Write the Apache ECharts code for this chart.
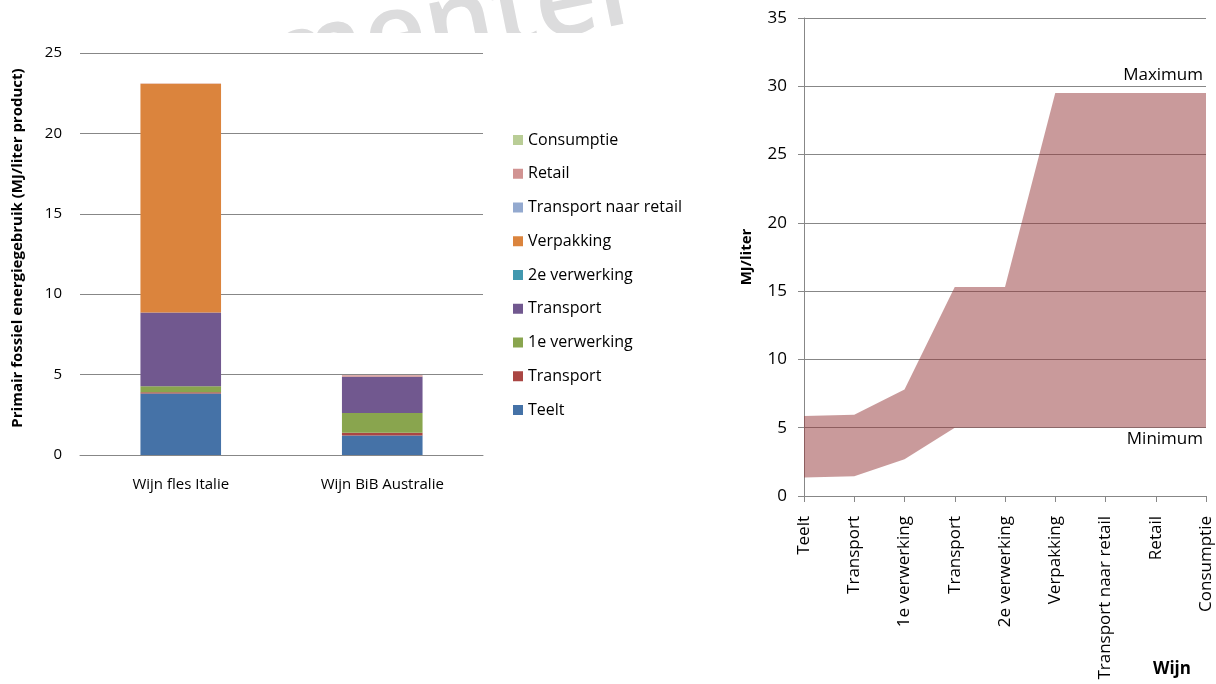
<!DOCTYPE html>
<html>
<head>
<meta charset="utf-8">
<script src="https://cdn.jsdelivr.net/npm/echarts@6/dist/echarts.min.js"></script>
<style>
    html, body { margin: 0; padding: 0; background: #fff; }
    #chart { width: 1216px; height: 684px; }
</style>
</head>
<body>
<div id="chart"></div>
<script>
// Left chart: energy use per product, stacked by stage (MJ/liter product)
const products = ['Wijn fles Italie', 'Wijn BiB Australie'];
const teelt = [3.83, 1.22];
const transport1 = [0.08, 0.16];
const verwerking1 = [0.37, 1.23];
const transport2 = [4.58, 2.25];
const verwerking2 = [0, 0];
const verpakking = [14.22, 0];
const transportRetail = [0, 0];
const retail = [0.03, 0.1];
const consumptie = [0, 0];

// Right chart: cumulative range over the chain (MJ/liter)
const stages = ['Teelt', 'Transport', '1e verwerking', 'Transport', '2e verwerking', 'Verpakking', 'Transport naar retail', 'Retail', 'Consumptie'];
const minimum = [1.35, 1.45, 2.7, 5, 5, 5, 5, 5, 5];
const maximum = [5.85, 5.95, 7.8, 15.3, 15.3, 29.5, 29.5, 29.5, 29.5];

const FONT = "'Open Sans', sans-serif";
const GRID_COLOR = '#878787';

const VC = function () {

    const stackSeries = function () {
        // bottom to top, names must be unique for the legend
        const parts = [
            ['Teelt', teelt, '#4572A7'],
            ['Transport', transport1, '#AA4643'],
            ['1e verwerking', verwerking1, '#89A54E'],
            ['Transport ', transport2, '#71588F'],
            ['2e verwerking', verwerking2, '#4198AF'],
            ['Verpakking', verpakking, '#DB843D'],
            ['Transport naar retail', transportRetail, '#93A9CF'],
            ['Retail', retail, '#D19392'],
            ['Consumptie', consumptie, '#B9CD96']
        ];
        return parts.map(p => ({
            name: p[0],
            type: 'bar',
            stack: 'total',
            xAxisIndex: 0,
            yAxisIndex: 0,
            barWidth: '40%',
            itemStyle: { color: p[2] },
            data: p[1]
        }));
    }

    const bandSeries = function () {
        let diff = maximum.map((v, i) => v - minimum[i]);
        return [{
            name: 'min',
            type: 'line',
            stack: 'band',
            xAxisIndex: 1,
            yAxisIndex: 1,
            symbol: 'none',
            lineStyle: { opacity: 0 },
            data: minimum
        }, {
            name: 'band',
            type: 'line',
            stack: 'band',
            xAxisIndex: 1,
            yAxisIndex: 1,
            symbol: 'none',
            lineStyle: { opacity: 0 },
            areaStyle: { color: 'rgba(148,54,56,0.5)', opacity: 1 },
            data: diff,
            markLine: {
                silent: true,
                symbol: 'none',
                lineStyle: { color: 'transparent', width: 0, type: 'solid' },
                label: {
                    show: true,
                    color: '#000',
                    fontSize: 17,
                    fontFamily: FONT,
                    distance: 3
                },
                data: [
                    { yAxis: 30, label: { position: 'insideEndTop', formatter: 'Maximum' } },
                    { yAxis: 5, label: { position: 'insideEndBottom', formatter: 'Minimum' } }
                ]
            }
        }];
    }

    const initGraph = function () {
        const chart = echarts.init(document.getElementById('chart'));
        const legendNames = stackSeries().map(s => s.name).reverse();

        chart.setOption({
            backgroundColor: '#fff',
            animation: false,
            textStyle: { fontFamily: FONT },

            // Watermark, cut off at the bottom
            graphic: [{
                type: 'text',
                z: -10,
                x: 275,
                y: 118,
                rotation: 0.2,
                style: {
                    text: 'menter',
                    font: "600 108px 'Open Sans', sans-serif",
                    fill: '#dcdcdd',
                    textVerticalAlign: 'bottom'
                }
            }, {
                type: 'rect',
                z: -9,
                shape: { x: 200, y: 33, width: 580, height: 140 },
                style: { fill: '#fff' }
            }],

            title: {
                text: 'Wijn',
                left: 1153,
                top: 661,
                padding: 0,
                textStyle: { fontSize: 17, fontWeight: 'bold', color: '#000', fontFamily: FONT }
            },

            // Add legend
            legend: {
                orient: 'vertical',
                left: 513,
                top: 132,
                padding: 0,
                icon: 'rect',
                itemWidth: 10,
                itemHeight: 10,
                itemGap: 17.75,
                selectedMode: false,
                textStyle: { fontSize: 16, lineHeight: 16, color: '#000', fontFamily: FONT },
                data: legendNames
            },

            // Setup grids
            grid: [
                { left: 80, top: 53, width: 403, height: 402 },
                { left: 804, top: 18, width: 402, height: 478 }
            ],

            // Horizontal axes
            xAxis: [{
                type: 'category',
                gridIndex: 0,
                data: products,
                axisLine: { lineStyle: { color: GRID_COLOR } },
                axisTick: { length: 5, lineStyle: { color: GRID_COLOR } },
                axisLabel: { color: '#000', fontSize: 15, margin: 22, fontFamily: FONT }
            }, {
                type: 'category',
                gridIndex: 1,
                data: stages,
                boundaryGap: false,
                axisLine: { lineStyle: { color: GRID_COLOR } },
                axisTick: { length: 6, lineStyle: { color: GRID_COLOR } },
                axisLabel: { color: '#000', fontSize: 17, rotate: 90, margin: 20, interval: 0, fontFamily: FONT }
            }],

            // Vertical axes
            yAxis: [{
                type: 'value',
                gridIndex: 0,
                min: 0,
                max: 25,
                interval: 5,
                name: 'Primair fossiel energiegebruik (MJ/liter product)',
                nameLocation: 'middle',
                nameGap: 55,
                nameTextStyle: { fontSize: 15, fontWeight: 'bold', color: '#000', padding: [0, 0, 0, 12], fontFamily: FONT },
                axisLine: { show: false },
                axisTick: { show: false },
                axisLabel: { color: '#000', fontSize: 15, margin: 18, fontFamily: FONT },
                splitLine: { lineStyle: { color: GRID_COLOR } }
            }, {
                type: 'value',
                gridIndex: 1,
                min: 0,
                max: 35,
                interval: 5,
                name: 'MJ/liter',
                nameLocation: 'middle',
                nameGap: 50,
                nameTextStyle: { fontSize: 15, fontWeight: 'bold', color: '#000', fontFamily: FONT },
                axisLine: { show: true, lineStyle: { color: GRID_COLOR } },
                axisTick: { show: true, length: 6, lineStyle: { color: GRID_COLOR } },
                axisLabel: { color: '#000', fontSize: 17, margin: 17, fontFamily: FONT },
                splitLine: { lineStyle: { color: GRID_COLOR } }
            }],

            // Add series
            series: stackSeries().concat(bandSeries())
        });
    }

    return {
        initGraph
    }
}();

VC.initGraph();
</script>
</body>
</html>
